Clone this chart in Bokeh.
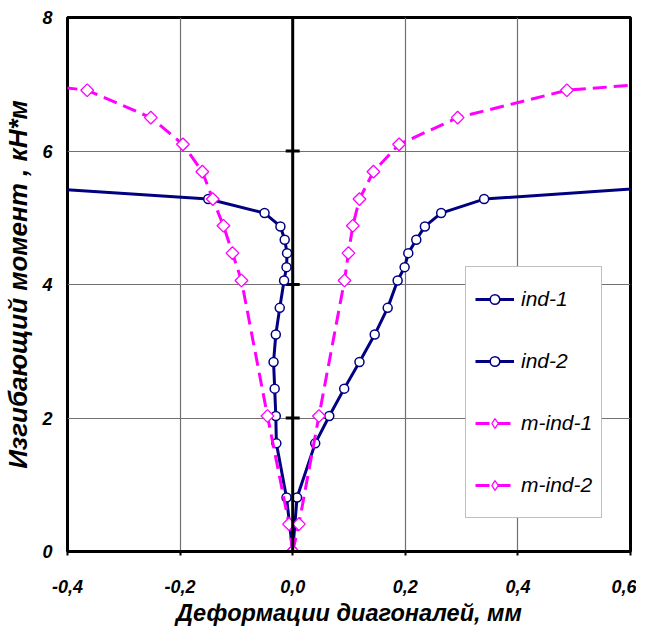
from bokeh.plotting import figure
from bokeh.models import Span, Legend, LegendItem, CustomJSTickFormatter
from bokeh.embed import file_html
from bokeh.resources import INLINE

# ---- data ----
load_ind = [0, 0.81, 1.62, 2.03, 2.44, 2.84, 3.25, 3.65, 4.06, 4.26, 4.47, 4.67, 4.87, 5.07, 5.28, 5.48]
ind1_x = [0, -0.011, -0.029, -0.030, -0.032, -0.034, -0.030, -0.023, -0.0153, -0.011, -0.010, -0.0142,
          -0.0218, -0.050, -0.150, -0.51]
ind2_x = [0, 0.0077, 0.040, 0.065, 0.0915, 0.1186, 0.1457, 0.1687, 0.1864, 0.1988, 0.2053, 0.2195,
          0.2348, 0.2637, 0.340, 0.69]

load_mind = [0, 0.41, 2.03, 4.06, 4.47, 4.88, 5.28, 5.69, 6.10, 6.50, 6.91, 7.31]
mind1_x = [0, -0.0065, -0.0448, -0.091, -0.107, -0.123, -0.142, -0.1605, -0.195, -0.252, -0.365, -0.78]
mind2_x = [0, 0.011, 0.0466, 0.092, 0.099, 0.1068, 0.1186, 0.1434, 0.189, 0.293, 0.487, 1.09]

series_names = ["ind-1", "ind-2", "m-ind-1", "m-ind-2"]

x_ticks = [-0.4, -0.2, 0.0, 0.2, 0.4, 0.6]
x_tick_labels = ["-0,4", "-0,2", "0,0", "0,2", "0,4", "0,6"]
y_ticks = [0, 2, 4, 6, 8]
y_tick_labels = ["0", "2", "4", "6", "8"]

x_title = "Деформации диагоналей, мм"
y_title = "Изгибающий момент , кН*м"

NAVY = "#000080"
MAG = "#FF00FF"
FONT = "Liberation Sans"

p = figure(frame_width=563, frame_height=534,
           x_range=(-0.4, 0.6), y_range=(0, 8),
           output_backend="svg", toolbar_location=None,
           min_border_left=61, min_border_right=6, min_border_top=17, min_border_bottom=70)

p.outline_line_color = "black"
p.outline_line_width = 3
p.background_fill_color = "white"
p.border_fill_color = "white"

def fmt(vals, labels):
    return CustomJSTickFormatter(args=dict(tvals=vals, tlabels=labels), code="""
        let best = 0;
        for (let i = 0; i < tvals.length; i++) {
            if (Math.abs(tvals[i] - tick) < Math.abs(tvals[best] - tick)) best = i;
        }
        return tlabels[best];
    """)

# x axis
xa = p.xaxis[0]
xa.ticker = x_ticks
xa.formatter = fmt(x_ticks, x_tick_labels)
xa.axis_line_color = "black"
xa.axis_line_width = 3
xa.major_tick_in = 0
xa.major_tick_out = 4
xa.major_tick_line_width = 2
xa.major_tick_line_color = "black"
xa.minor_tick_line_color = None
xa.major_label_standoff = 24
xa.major_label_text_font = FONT
xa.major_label_text_font_style = "bold italic"
xa.major_label_text_font_size = "18px"
xa.major_label_text_color = "black"
xa.axis_label = x_title
xa.axis_label_text_font = FONT
xa.axis_label_text_font_style = "bold italic"
xa.axis_label_text_font_size = "23.5px"
xa.axis_label_text_color = "black"
xa.axis_label_standoff = 4

# y axis
ya = p.yaxis[0]
ya.ticker = y_ticks
ya.formatter = fmt(y_ticks, y_tick_labels)
ya.axis_line_color = None
ya.major_tick_line_color = None
ya.minor_tick_line_color = None
ya.major_tick_out = 0
ya.major_tick_in = 0
ya.major_label_standoff = 15
ya.major_label_text_font = FONT
ya.major_label_text_font_style = "bold italic"
ya.major_label_text_font_size = "18px"
ya.major_label_text_color = "black"
ya.axis_label = y_title
ya.axis_label_text_font = FONT
ya.axis_label_text_font_style = "bold italic"
ya.axis_label_text_font_size = "26px"
ya.axis_label_text_color = "black"
ya.axis_label_standoff = 6

# grids
p.xgrid.ticker = [t for t in x_ticks if t not in (x_ticks[0], 0.0, x_ticks[-1])]
p.ygrid.ticker = y_ticks[1:-1]
for g in (p.xgrid[0], p.ygrid[0]):
    g.grid_line_color = "#707070"
    g.grid_line_width = 1.2

# vertical axis line at x = 0 with its tick marks
p.add_layout(Span(location=0, dimension="height", line_color="black", line_width=3))
p.scatter(x=[0.0] * len(y_ticks[1:-1]), y=y_ticks[1:-1], marker="dash", size=14,
          line_color="black", line_width=3)

# series
r1l = p.line(ind1_x, load_ind, line_color=NAVY, line_width=3, line_join="round")
r1m = p.scatter(ind1_x, load_ind, marker="circle", size=9, fill_color="white",
                line_color=NAVY, line_width=1.5)
r2l = p.line(ind2_x, load_ind, line_color=NAVY, line_width=3, line_join="round")
r2m = p.scatter(ind2_x, load_ind, marker="circle", size=9, fill_color="white",
                line_color=NAVY, line_width=1.5)
r3l = p.line(mind1_x, load_mind, line_color=MAG, line_width=3, line_dash="14 7")
r3m = p.scatter(mind1_x, load_mind, marker="square", angle=0.7853981634, size=9,
                fill_color="white", line_color=MAG, line_width=1.3)
r4l = p.line(mind2_x, load_mind, line_color=MAG, line_width=3, line_dash="14 7")
r4m = p.scatter(mind2_x, load_mind, marker="square", angle=0.7853981634, size=9,
                fill_color="white", line_color=MAG, line_width=1.3)

# legend-only diamond symbol (rotated squares are not rotated in legends);
# its single point is NaN so nothing is drawn in the plot area
leg_d = p.scatter(x=[float("nan")], y=[float("nan")], marker="diamond", size=12,
                  fill_color="white", line_color=MAG, line_width=1.3)

legend = Legend(items=[
    LegendItem(label=series_names[0], renderers=[r1l, r1m]),
    LegendItem(label=series_names[1], renderers=[r2l, r2m]),
    LegendItem(label=series_names[2], renderers=[r3l, leg_d]),
    LegendItem(label=series_names[3], renderers=[r4l, leg_d]),
], location=(398, 33))
legend.border_line_color = "#808080"
legend.border_line_width = 1.5
legend.background_fill_color = "white"
legend.background_fill_alpha = 1
legend.label_text_font = FONT
legend.label_text_font_style = "italic"
legend.label_text_font_size = "21px"
legend.label_text_color = "black"
legend.glyph_width = 39
legend.glyph_height = 24
legend.label_height = 46
legend.label_standoff = 7
legend.spacing = 16
legend.padding = 9
legend.margin = 0
p.add_layout(legend)

open("out.html", "w").write(file_html(p, INLINE))
